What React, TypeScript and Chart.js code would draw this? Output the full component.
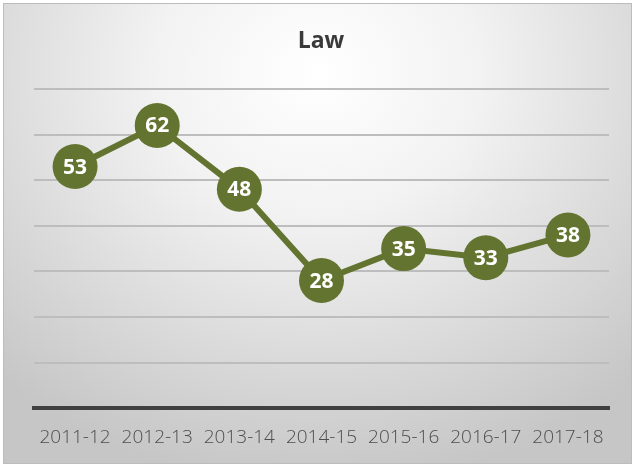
import React, { useEffect, useRef } from "react";
import { Chart, registerables } from "chart.js";

Chart.register(...registerables);

const categories = ["2011-12", "2012-13", "2013-14", "2014-15", "2015-16", "2016-17", "2017-18"];
const values = [53, 62, 48, 28, 35, 33, 38];
const chartTitle = "Law";
const lineColor = "#62742f";

const labelPlugin = {
  id: "pointLabels",
  afterDatasetsDraw(chart: any) {
    const ctx = chart.ctx;
    const meta = chart.getDatasetMeta(0);
    ctx.save();
    ctx.fillStyle = "#ffffff";
    ctx.font = "bold 21px 'Open Sans'";
    ctx.textAlign = "center";
    ctx.textBaseline = "middle";
    meta.data.forEach((pt: any, i: number) => {
      ctx.fillText(String(values[i]), pt.x, pt.y + 1);
    });
    ctx.restore();
  },
};

const titlePlugin = {
  id: "customTitle",
  afterDraw(chart: any) {
    const ctx = chart.ctx;
    ctx.save();
    ctx.fillStyle = "#3a3a3a";
    ctx.font = "bold 23px 'Open Sans'";
    ctx.textAlign = "center";
    ctx.textBaseline = "middle";
    ctx.fillText(chartTitle, 321, 41);
    ctx.restore();
  },
};

export default function App() {
  const ref = useRef<HTMLCanvasElement>(null);
  useEffect(() => {
    if (!ref.current) return;
    const chart = new Chart(ref.current, {
      type: "line",
      data: {
        labels: categories,
        datasets: [
          {
            data: values,
            borderColor: lineColor,
            backgroundColor: lineColor,
            borderWidth: 6,
            pointRadius: 22.5,
            pointBackgroundColor: lineColor,
            pointBorderWidth: 0,
            tension: 0,
          },
        ],
      },
      options: {
        responsive: false,
        animation: false,
        layout: { padding: { left: 34, right: 28, top: 89, bottom: 0 } },
        plugins: { legend: { display: false }, tooltip: { enabled: false }, title: { display: false } },
        scales: {
          x: {
            offset: true,
            grid: { display: false, drawTicks: false },
            border: { display: true, color: "#404040", width: 4 },
            ticks: {
              color: "#4e4e4e",
              font: { family: "'Open Sans'", size: 19, weight: 300 },
              padding: 18,
              maxRotation: 0,
              autoSkip: false,
            },
          },
          y: {
            min: 0,
            max: 70,
            ticks: { display: false, stepSize: 10 },
            grid: { color: "#bdbdbd", lineWidth: 2, drawTicks: false },
            border: { display: false },
          },
        },
      },
      plugins: [labelPlugin, titlePlugin],
    });
    return () => chart.destroy();
  }, []);
  return (
    <div style={{ position: "absolute", left: 0, top: 0, width: 637, height: 467, background: "#ffffff" }}>
      <div
        style={{
          position: "absolute",
          left: 3,
          top: 3,
          width: 629,
          height: 461,
          boxSizing: "border-box",
          border: "1px solid #bcbcbc",
          background: "radial-gradient(ellipse 75% 90% at 50% 15%, #ffffff 0%, #f2f2f2 35%, #dadada 70%, #c6c6c6 100%)",
        }}
      />
      <canvas ref={ref} width={637} height={467} style={{ position: "absolute", left: 0, top: 0 }} />
    </div>
  );
}
